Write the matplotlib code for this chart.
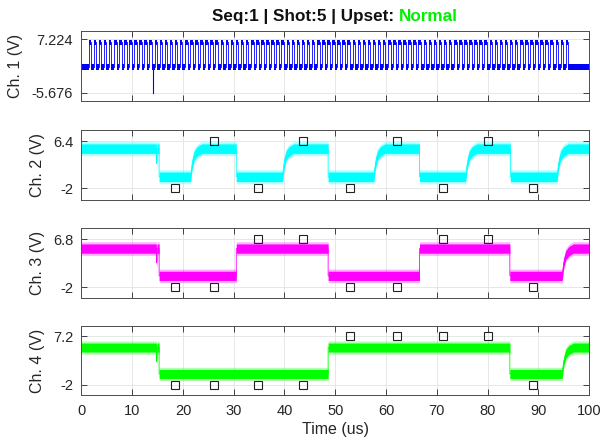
import numpy as np
import matplotlib.pyplot as plt

plt.rcParams['font.family'] = ['Liberation Sans', 'DejaVu Sans']

# channel 1: clock burst
ch1_low, ch1_high = 0.5, 6.5
ch1_start, ch1_stop, ch1_period = 1.4, 95.9, 1.0
ch1_glitch_t, ch1_glitch_v = 14.15, -5.676
ch1_ticks = [-5.676, 7.224]

# channels 2-4: logic levels and edges ('f' fall, 'r' rise, 's' slow rise)
lvl_high, lvl_low = 5.05, 0.05
ch2_edges = [15.3, 21.5, 30.5, 39.6, 48.6, 57.6, 66.6, 75.7, 84.5, 93.7]
ch2_kinds = ['f', 's', 'f', 's', 'f', 's', 'f', 's', 'f', 's']
ch3_edges = [15.3, 30.5, 48.6, 66.6, 84.4, 94.7]
ch3_kinds = ['f', 'r', 'f', 'r', 'f', 's']
ch4_edges = [15.3, 48.6, 84.4, 94.7]
ch4_kinds = ['f', 'r', 'f', 's']
dip_t, dip_v = 14.8, 2.4

# slow rise shape (time after edge, fraction of swing)
rise_dt = [0.0, 0.3, 0.7, 1.3, 2.2]
rise_frac = [0.0, 0.45, 0.75, 0.9, 1.0]

# sample markers
mk_t = [18.5, 26.2, 34.8, 43.7, 53.0, 62.2, 71.2, 80.1, 89.0]
ch2_mk = [-2, 6.4, -2, 6.4, -2, 6.4, -2, 6.4, -2]
ch3_mk = [-2, -2, 6.8, 6.8, -2, -2, 6.8, 6.8, -2]
ch4_mk = [-2, -2, -2, -2, 7.2, 7.2, 7.2, 7.2, -2]
ch2_ticks = [-2, 6.4]
ch3_ticks = [-2, 6.8]
ch4_ticks = [-2, 7.2]

xticks = list(range(0, 101, 10))


def logic_trace(edges, kinds):
    t = [0.0, dip_t - 0.05, dip_t, dip_t + 0.1]
    v = [lvl_high, lvl_high, dip_v, lvl_high]
    for te, k in zip(edges, kinds):
        if k == 'f':
            t += [te, te]
            v += [lvl_high, lvl_low]
        elif k == 'r':
            t += [te, te]
            v += [lvl_low, lvl_high]
        else:
            for dt, fr in zip(rise_dt, rise_frac):
                t.append(te + dt)
                v.append(lvl_low + fr * (lvl_high - lvl_low))
    t.append(100.0)
    v.append(v[-1])
    return np.array(t), np.array(v)


def clock_trace():
    t = [0.0]
    v = [ch1_low]
    r = ch1_start
    while r < ch1_stop:
        f = r + ch1_period / 2
        t += [r, r, f, f]
        v += [ch1_low, ch1_high, ch1_high, ch1_low]
        r += ch1_period
    t.append(100.0)
    v.append(ch1_low)
    return np.array(t), np.array(v)


fig = plt.figure(figsize=(6, 4.46), dpi=100)
bottoms = [0.774, 0.5525, 0.332, 0.1135]
height = 0.1565
left, width = 0.1358, 0.8459

axes = [fig.add_axes([left, b, width, height]) for b in bottoms]

chans = [
    (clock_trace(), '#0000ff', ch1_ticks, None, 0.65),
    (logic_trace(ch2_edges, ch2_kinds), '#00ffff', ch2_ticks, ch2_mk, 0.85),
    (logic_trace(ch3_edges, ch3_kinds), '#ff00ff', ch3_ticks, ch3_mk, 0.85),
    (logic_trace(ch4_edges, ch4_kinds), '#00ff00', ch4_ticks, ch4_mk, 0.85),
]

for i, (ax, ((t, v), col, yt, mk, hw)) in enumerate(zip(axes, chans)):
    if i > 0:
        ax.fill_between(t, v - hw - 0.4, v + hw + 0.4, color=col, alpha=0.3,
                        lw=0)
    ax.fill_between(t, v - hw, v + hw, color=col, lw=0)
    ax.plot(t, v, color=col, lw=0.6)
    if i == 0:
        ax.plot([ch1_glitch_t, ch1_glitch_t], [ch1_low, ch1_glitch_v],
                color=col, lw=0.8)
    if mk is not None:
        ax.plot(mk_t, mk, 's', mfc='none', mec='#222222', ms=5.5, mew=0.8)
    ax.set_xlim(0, 100)
    ax.set_ylim(min(yt) - 2, max(yt) + 2)
    ax.set_yticks(yt)
    ax.set_yticklabels([('%g' % y) for y in yt])
    ax.set_xticks(xticks)
    if i < 3:
        ax.set_xticklabels([])
    ax.grid(True, color='#e3e3e3', lw=0.6)
    ax.set_axisbelow(True)
    ax.tick_params(direction='in', top=True, right=True, length=4,
                   width=0.6, colors='#262626', labelsize=10.5, pad=6)
    for s in ax.spines.values():
        s.set_color('#4d4d4d')
        s.set_linewidth(0.7)
    ax.set_ylabel('Ch. %d (V)' % (i + 1), fontsize=11.5, color='#262626',
                  labelpad=6)

axes[3].set_xlabel('Time (us)', fontsize=11.5, color='#262626', labelpad=3)

# title with coloured status word
t1 = fig.text(0, 0.953, 'Seq:1 | Shot:5 | Upset: ', fontsize=12.3,
              fontweight='bold', color='#111111', va='baseline')
t2 = fig.text(0, 0.953, 'Normal', fontsize=12.3, fontweight='bold',
              color='#00f000', va='baseline')
fig.canvas.draw()
r = fig.canvas.get_renderer()
w1 = t1.get_window_extent(r).width / fig.bbox.width
w2 = t2.get_window_extent(r).width / fig.bbox.width
cx = left + width / 2
x0 = cx - (w1 + w2) / 2
t1.set_x(x0)
t2.set_x(x0 + w1)

fig.savefig('out.png', dpi=100)
